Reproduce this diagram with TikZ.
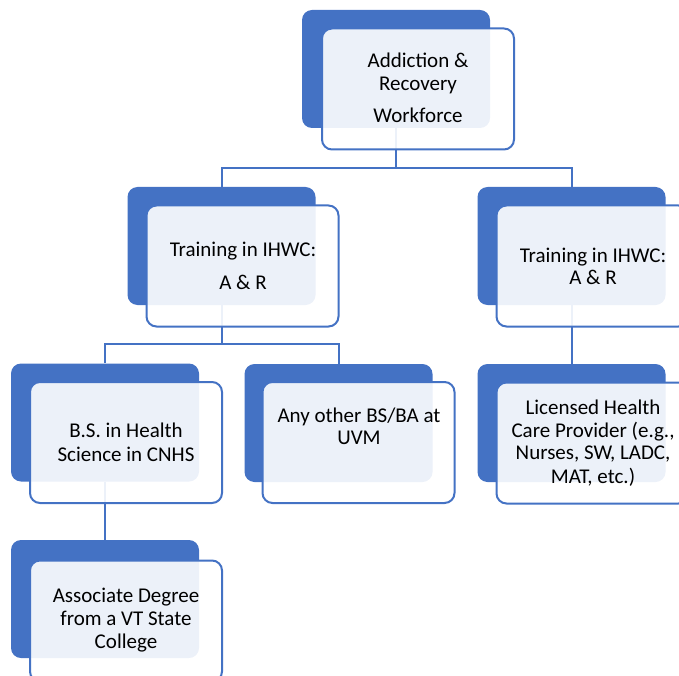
\documentclass[tikz,border=0pt]{standalone}
\usepackage{fontspec}
\setmainfont{Carlito}
\definecolor{accent}{HTML}{4472C4}
\begin{document}
\begin{tikzpicture}[x=1pt,y=-1pt,
  backbox/.style={fill=accent, rounded corners=10pt, inner sep=0pt, minimum width=188pt, minimum height=118pt},
  frontbox/.style={draw=accent, line width=2pt, fill=white, fill opacity=0.9, rounded corners=10pt, inner sep=0pt, minimum width=192pt, minimum height=121pt},
  conn/.style={draw=accent, line width=2pt},
  lbl/.style={anchor=base, inner sep=0pt, font=\fontsize{21}{23}\selectfont, text=black}]
\useasboundingbox (0,0) rectangle (679,676);
% back boxes
\node[backbox] (b0) at (396,69) {};
\node[backbox] (b1) at (221.5,246) {};
\node[backbox] (b2) at (571.5,246) {};
\node[backbox] (b3) at (105,422.5) {};
\node[backbox] (b4) at (338.5,423) {};
\node[backbox] (b5) at (571.5,423) {};
\node[backbox] (b6) at (105,599) {};
% connectors
\coordinate (j0) at (396,168);
\coordinate (j1) at (221.5,344);
\draw[conn] (b0.south) -- (j0) -| (b1.north);
\draw[conn] (j0) -| (b2.north);
\draw[conn] (b1.south) -- (j1) -| (b3.north);
\draw[conn] (j1) -| (b4.north);
\draw[conn] (b2.south) -- (b5.north);
\draw[conn] (b3.south) -- (b6.north);
% front boxes
\node[frontbox] (f0) at (418,89) {};
\node[frontbox] (f1) at (242.5,266) {};
\node[frontbox] (f2) at (592.5,266) {};
\node[frontbox] (f3) at (126,442.5) {};
\node[frontbox] (f4) at (358.5,442.5) {};
\node[frontbox] (f5) at (592.5,443) {};
\node[frontbox] (f6) at (126,621) {};
% texts
\node[lbl] (t0a) at (418,68) {Addiction \&};
\node[lbl] (t0b) at (418,91) {Recovery};
\node[lbl] (t0c) at (418,123) {Workforce};
\node[lbl] (t1a) at (243,256) {Training in IHWC:};
\node[lbl] (t1b) at (243,289) {A \& R};
\node[lbl] (t2a) at (593,262) {Training in IHWC:};
\node[lbl] (t2b) at (593,284) {A \& R};
\node[lbl] (t3a) at (126,437) {B.S. in Health};
\node[lbl] (t3b) at (126,461) {Science in CNHS};
\node[lbl] (t4a) at (359,422) {Any other BS/BA at};
\node[lbl] (t4b) at (359,444) {UVM};
\node[lbl] (t5a) at (593,414) {Licensed Health};
\node[lbl] (t5b) at (593,437) {Care Provider (e.g.,};
\node[lbl] (t5c) at (593,459) {Nurses, SW, LADC,};
\node[lbl] (t5d) at (593,483) {MAT, etc.)};
\node[lbl] (t6a) at (126,602) {Associate Degree};
\node[lbl] (t6b) at (126,625) {from a VT State};
\node[lbl] (t6c) at (126,648) {College};
\end{tikzpicture}
\end{document}
